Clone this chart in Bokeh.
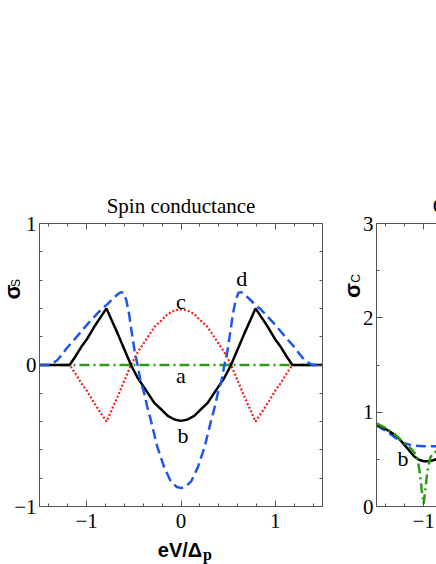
import math
from bokeh.plotting import figure
from bokeh.models import Range1d, LinearAxis, SingleIntervalTicker, Label
from bokeh.embed import file_html
from bokeh.resources import INLINE

# ---------------- data ----------------
# Spin conductance panel
a_x = [-1.5, -0.75, 0.0, 0.75, 1.5]
a_y = [0.0, 0.0, 0.0, 0.0, 0.0]

b_x = [-1.5, -1.18, -1.12, -1.06, -1.0, -0.92, -0.85, -0.79, -0.73, -0.67, -0.6, -0.53,
       -0.46, -0.39, -0.33, -0.28, -0.2, -0.14, -0.07, 0.0,
       0.07, 0.14, 0.2, 0.28, 0.33, 0.39, 0.46,
       0.53, 0.6, 0.67, 0.73, 0.79, 0.85, 0.92, 1.0, 1.06, 1.12, 1.18, 1.5]
b_y = [0.0, 0.0, 0.06, 0.125, 0.18, 0.27, 0.34, 0.40, 0.31, 0.22, 0.11, 0.0,
       -0.09, -0.16, -0.22, -0.27, -0.32, -0.36, -0.385, -0.395,
       -0.385, -0.36, -0.32, -0.27, -0.22, -0.16, -0.09,
       0.0, 0.11, 0.22, 0.31, 0.40, 0.34, 0.27, 0.18, 0.125, 0.06, 0.0, 0.0]

c_x = [-1.5, -1.18, -1.12, -1.06, -1.0, -0.92, -0.85, -0.79, -0.73, -0.67, -0.6, -0.53,
       -0.46, -0.39, -0.33, -0.28, -0.2, -0.14, -0.07, 0.0,
       0.07, 0.14, 0.2, 0.28, 0.33, 0.39, 0.46,
       0.53, 0.6, 0.67, 0.73, 0.79, 0.85, 0.92, 1.0, 1.06, 1.12, 1.18, 1.5]
c_y = [0.0, 0.0, -0.06, -0.125, -0.18, -0.27, -0.34, -0.40, -0.31, -0.22, -0.11, 0.0,
       0.09, 0.16, 0.22, 0.27, 0.32, 0.36, 0.385, 0.395,
       0.385, 0.36, 0.32, 0.27, 0.22, 0.16, 0.09,
       0.0, -0.11, -0.22, -0.31, -0.40, -0.34, -0.27, -0.18, -0.125, -0.06, 0.0, 0.0]

d_x = [-1.5, -1.40, -1.36, -1.31, -1.26, -1.21, -1.13, -1.06, -0.99, -0.92, -0.85, -0.78,
       -0.72, -0.67, -0.64, -0.61, -0.58, -0.55, -0.52, -0.49, -0.46, -0.43, -0.39, -0.36,
       -0.32, -0.25, -0.18, -0.11, -0.05, 0.0,
       0.05, 0.11, 0.18, 0.25, 0.32, 0.36, 0.39, 0.43, 0.46, 0.49, 0.52, 0.55, 0.58, 0.61,
       0.64, 0.67, 0.72, 0.78, 0.85, 0.92, 0.99, 1.06, 1.13, 1.21, 1.26, 1.31, 1.36, 1.40, 1.5]
d_y = [0.0, 0.0, 0.012, 0.035, 0.075, 0.12, 0.18, 0.235, 0.29, 0.34, 0.39, 0.43,
       0.47, 0.50, 0.515, 0.51, 0.46, 0.36, 0.22, 0.09, 0.0, -0.11, -0.20, -0.29,
       -0.39, -0.58, -0.72, -0.82, -0.86, -0.87,
       -0.86, -0.82, -0.72, -0.58, -0.39, -0.29, -0.20, -0.11, 0.0, 0.09, 0.22, 0.36, 0.46, 0.51,
       0.515, 0.50, 0.47, 0.43, 0.39, 0.34, 0.29, 0.235, 0.18, 0.12, 0.075, 0.035, 0.012, 0.0, 0.0]

# Charge conductance panel (visible part)
rb_x = [-1.5, -1.42, -1.35, -1.28, -1.21, -1.15, -1.1, -1.05, -1.0, -0.95, -0.9, -0.85, -0.8]
rb_y = [0.87, 0.83, 0.79, 0.74, 0.66, 0.59, 0.53, 0.495, 0.48, 0.48, 0.49, 0.505, 0.52]
rd_x = [-1.5, -1.4, -1.3, -1.21, -1.1, -1.0, -0.9, -0.8]
rd_y = [0.86, 0.80, 0.73, 0.67, 0.645, 0.64, 0.64, 0.64]
ra_x = [-1.5, -1.4, -1.3, -1.2, -1.12, -1.07, -1.04, -1.02, -1.0, -0.98, -0.96, -0.93, -0.9, -0.85, -0.8]
ra_y = [0.88, 0.83, 0.76, 0.67, 0.60, 0.53, 0.35, 0.17, 0.03, 0.20, 0.38, 0.52, 0.56, 0.60, 0.62]

left_title = "Spin conductance"
right_title = "Charge conductance"
curve_labels = ["a", "b", "c", "d"]
left_xlim, left_ylim = (-1.5, 1.5), (-1.0, 1.0)
right_xlim, right_ylim = (-1.5, 1.5), (0.0, 3.0)

# ---------------- layout (pixels on the canvas) ----------------
W, H = 436, 564
BOX_TOP, BOX_BOTTOM = 223, 506
L_LEFT, L_RIGHT = 39, 322
R_LEFT = 376
R_RIGHT = R_LEFT + (L_RIGHT - L_LEFT)

SERIF = "Liberation Serif"
SANS = "Liberation Sans"
FRAME = "#555555"
BLUE = "#1f55f0"
RED = "#ff1a1a"
GREEN = "#2f9a1a"


def canvas_range(lim, p0, p1, total, flip=False):
    """Range over the whole canvas so that lim maps onto pixels p0..p1."""
    k = (lim[1] - lim[0]) / (p1 - p0)
    if not flip:
        return Range1d(lim[0] - p0 * k, lim[0] + (total - p0) * k)
    return Range1d(lim[0] - (total - p1) * k, lim[1] + p0 * k)


p = figure(width=W, height=H, output_backend="svg", toolbar_location=None,
           x_axis_location=None, y_axis_location=None,
           x_range=canvas_range(left_xlim, L_LEFT, L_RIGHT, W),
           y_range=canvas_range(left_ylim, BOX_TOP, BOX_BOTTOM, H, flip=True),
           min_border=0)
p.min_border_left = p.min_border_right = p.min_border_top = p.min_border_bottom = 0
for g in p.grid:
    g.visible = False
p.outline_line_color = None
p.background_fill_color = "white"
p.border_fill_color = "white"
p.extra_x_ranges = {"rx": canvas_range(right_xlim, R_LEFT, R_RIGHT, W)}
p.extra_y_ranges = {"ry": canvas_range(right_ylim, BOX_TOP, BOX_BOTTOM, H, flip=True)}


def box_axes(xlim, ylim, xminor, yminor, xlabels, ylabels, xr="default", yr="default",
             sides=("below", "left", "above", "right")):
    for side in sides:
        horiz = side in ("below", "above")
        ticker = SingleIntervalTicker(interval=1, num_minor_ticks=xminor if horiz else yminor)
        if side == "below":
            loc, ov = ylim[0], xlabels
        elif side == "above":
            loc, ov = ylim[1], {k: "" for k in xlabels}
        elif side == "left":
            loc, ov = xlim[0], ylabels
        else:
            loc, ov = xlim[1], {k: "" for k in ylabels}
        ax = LinearAxis(ticker=ticker, fixed_location=loc, bounds=xlim if horiz else ylim,
                        x_range_name=xr, y_range_name=yr)
        ax.axis_line_color = FRAME
        ax.axis_line_width = 1
        ax.major_tick_line_color = FRAME
        ax.minor_tick_line_color = FRAME
        ax.major_tick_in = 6
        ax.major_tick_out = 0
        ax.minor_tick_in = 3
        ax.minor_tick_out = 0
        ax.major_label_text_font = SERIF
        ax.major_label_text_font_size = "21px"
        ax.major_label_text_color = "black"
        ax.major_label_overrides = ov
        ax.major_label_standoff = 7 if side == "below" else 3
        p.add_layout(ax, side)


box_axes(left_xlim, left_ylim, 5, 5,
         {-1: "\u22121", 0: "0", 1: "1"}, {-1: "\u22121", 0: "0", 1: "1"})
box_axes(right_xlim, right_ylim, 5, 2,
         {-1: "\u22121", 0: "0", 1: "1"}, {0: "0", 1: "1", 2: "2", 3: "3"},
         xr="rx", yr="ry")

# curves, left panel
p.line(a_x, a_y, line_color=GREEN, line_width=2.5, line_dash="10 4 2 4")
p.line(c_x, c_y, line_color=RED, line_width=2.2, line_dash="2 2")
p.line(b_x, b_y, line_color="black", line_width=2.5)
p.line(d_x, d_y, line_color=BLUE, line_width=2.5, line_dash="10 5")

# curves, right panel
p.line(rd_x, rd_y, line_color=BLUE, line_width=2.5, line_dash="10 5", x_range_name="rx", y_range_name="ry")
p.line(rb_x, rb_y, line_color="black", line_width=2.5, x_range_name="rx", y_range_name="ry")
p.line(ra_x, ra_y, line_color=GREEN, line_width=2.5, line_dash="10 4 2 4", x_range_name="rx", y_range_name="ry")

# curve letters (data units, glyph centres)
lab_pos = [(0.0, -0.075), (0.02, -0.499), (0.0, 0.446), (0.645, 0.608)]
for t, (lx, ly) in zip(curve_labels, lab_pos):
    p.add_layout(Label(x=lx, y=ly, text=t, text_align="center", text_baseline="middle",
                       text_font=SERIF, text_font_size="22px", text_color="black"))
p.add_layout(Label(x=-1.219, y=0.505, text="b", text_align="center", text_baseline="middle",
                   x_range_name="rx", y_range_name="ry",
                   text_font=SERIF, text_font_size="22px", text_color="black"))


def clabel(x, y, text, size, font=SERIF, style="normal", align="center", angle=0.0):
    p.add_layout(Label(x=x, y=y, x_units="canvas", y_units="canvas", text=text,
                       text_align=align, text_baseline="middle", angle=angle,
                       text_font=font, text_font_style=style, text_font_size=size,
                       text_color="black"))


clabel((L_LEFT + L_RIGHT) / 2, 205, left_title, "21px")
clabel((R_LEFT + R_RIGHT) / 2, 205, right_title, "21px")
clabel(11.5, 291.5, "\u03c3", "22px", font=SANS, style="bold", angle=math.pi / 2)
clabel(15.7, 282.5, "S", "12px", font=SANS, angle=math.pi / 2)
clabel(351.5, 290, "\u03c3", "22px", font=SANS, style="bold", angle=math.pi / 2)
clabel(355, 278, "C", "12px", font=SANS, angle=math.pi / 2)
clabel(201.7, 549.5, "eV/\u0394", "20px", font=SANS, style="bold", align="right")
clabel(202.5, 553.5, "p", "16px", font=SERIF, style="bold", align="left")

open("out.html", "w").write(file_html(p, INLINE))
